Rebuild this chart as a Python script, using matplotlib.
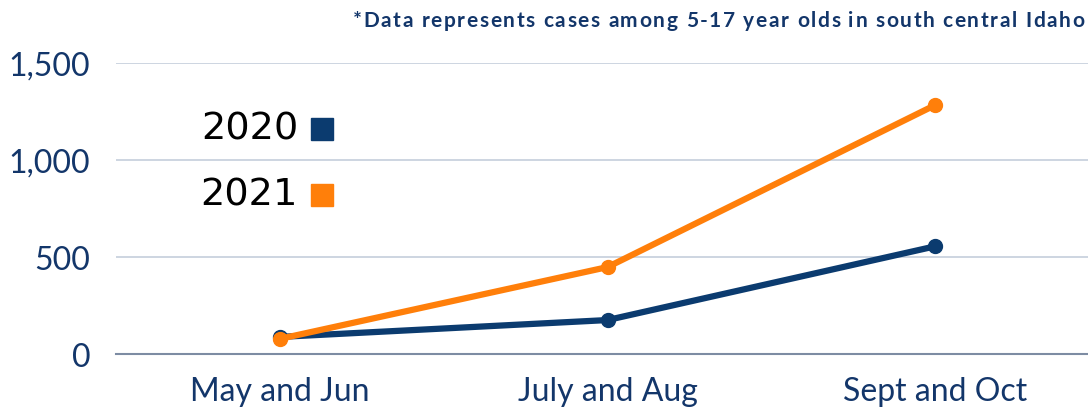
import matplotlib
matplotlib.use("Agg")
import matplotlib.pyplot as plt
from matplotlib.ticker import FuncFormatter

categories = ["May and Jun", "July and Aug", "Sept and Oct"]
series_names = ["2020", "2021"]
values_2020 = [88, 175, 555]
values_2021 = [78, 448, 1283]
yticks = [0, 500, 1000, 1500]
note = "*Data represents cases among 5-17 year olds in south central Idaho"

navy = "#0b3b6f"
orange = "#ff7f0a"
tick_color = "#13366a"

plt.rcParams["font.family"] = ["Lato", "DejaVu Sans"]

fig = plt.figure(figsize=(10.88, 4.10), dpi=100)
W, H = 1088, 410
left, right, top, bottom = 116, 1099, 64, 355
ax = fig.add_axes([left / W, 1 - bottom / H, (right - left) / W, (bottom - top) / H])

x = list(range(len(categories)))
ax.plot(x, values_2020, color=navy, lw=4.5, marker="o", ms=10, solid_capstyle="round", zorder=3)
ax.plot(x, values_2021, color=orange, lw=4.5, marker="o", ms=10, solid_capstyle="round", zorder=4)

ax.set_xlim(-0.5, 2.5)
ax.set_ylim(0, 1500)
ax.set_yticks(yticks)
ax.yaxis.set_major_formatter(FuncFormatter(lambda v, p: f"{int(v):,}"))
ax.set_xticks(x)
ax.set_xticklabels(categories)
ax.grid(axis="y", color="#c9d2de", lw=1.3, zorder=0)
ax.set_axisbelow(True)
for s in ["top", "right", "left"]:
    ax.spines[s].set_visible(False)
ax.spines["bottom"].set_color("#7d8ca3")
ax.spines["bottom"].set_linewidth(1.5)
ax.tick_params(axis="both", length=0, labelsize=23, colors=tick_color)
ax.tick_params(axis="y", pad=18.5)
ax.tick_params(axis="x", pad=16)

# legend
for name, col, yp in [(series_names[0], navy, 130), (series_names[1], orange, 196)]:
    fig.text(298 / W, 1 - yp / H, name, ha="right", va="center", fontsize=27.5,
             color="black", family=["DejaVu Sans"])
    fig.patches.append(plt.Rectangle((311 / W, 1 - (yp + 11) / H), 22 / W, 22 / H,
                                     transform=fig.transFigure, color=col, figure=fig))

# letter-spaced note, spanning from x=353 to x=1084
renderer = fig.canvas.get_renderer()
fs = 15
tmp = fig.text(0, 0, note, fontsize=fs, fontweight="bold")
prefix_w = [0.0]
for i in range(1, len(note) + 1):
    tmp.set_text(note[:i])
    prefix_w.append(tmp.get_window_extent(renderer).width)
tmp.remove()
x0, x1 = 353, 1084
track = (x1 - x0 - prefix_w[-1]) / (len(note) - 1)
for i, ch in enumerate(note):
    if ch == " ":
        continue
    px = x0 + prefix_w[i] + track * i
    fig.text(px / W, 1 - 21 / H, ch, ha="left", va="center", fontsize=fs,
             fontweight="bold", color=tick_color)

fig.savefig("out.png", dpi=100)
